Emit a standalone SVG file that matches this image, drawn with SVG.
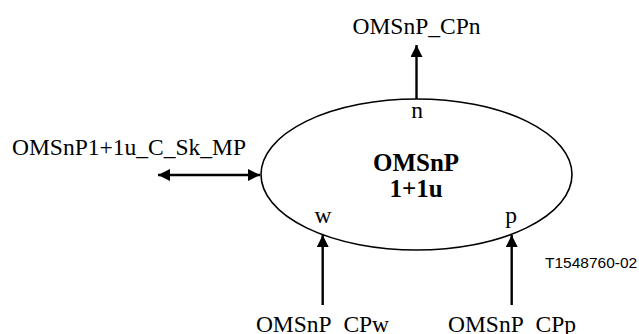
<svg xmlns="http://www.w3.org/2000/svg" width="639" height="334" viewBox="0 0 639 334">
<style>
.t{font-family:"Liberation Serif","Times New Roman",serif;font-size:23.5px;fill:#000}
.b{font-family:"Liberation Serif","Times New Roman",serif;font-size:25px;font-weight:bold;fill:#000}
.a{font-family:"Liberation Sans",Arial,sans-serif;font-size:15.5px;fill:#000}
.c{stroke:#000;stroke-width:2.4;fill:none}
</style>
<defs>
<marker id="ah" viewBox="0 0 12 12" refX="12" refY="6" markerWidth="12" markerHeight="12" markerUnits="userSpaceOnUse" orient="auto-start-reverse">
<path d="M0,0 L12,6 L0,12 Z" fill="#000"/>
</marker>
</defs>
<rect width="639" height="334" fill="#fff"/>
<g id="node-omsnp">
<ellipse cx="416.5" cy="174.5" rx="155.5" ry="75.5" fill="none" stroke="#000" stroke-width="1.6"/>
<text class="b" x="416" y="171" text-anchor="middle">OMSnP</text>
<text class="b" x="416" y="197" text-anchor="middle">1+1u</text>
<text class="t" x="417" y="118" text-anchor="middle">n</text>
<text class="t" x="323" y="223" text-anchor="middle">w</text>
<text class="t" x="511" y="223" text-anchor="middle">p</text>
</g>
<g id="label-cpn"><text class="t" x="416.5" y="34" text-anchor="middle">OMSnP_CPn</text></g>
<g id="label-sk"><text class="t" x="12" y="155">OMSnP1+1u_C_Sk_MP</text></g>
<g id="label-cpw"><text class="t" x="322.5" y="332" text-anchor="middle">OMSnP_CPw</text></g>
<g id="label-cpp"><text class="t" x="512" y="332" text-anchor="middle">OMSnP_CPp</text></g>
<g id="label-id"><text class="a" x="545" y="268">T1548760-02</text></g>
<g id="connectors">
<line class="c" x1="416.5" y1="99" x2="416.5" y2="45" marker-end="url(#ah)"/>
<line class="c" x1="158" y1="175" x2="260" y2="175" marker-start="url(#ah)" marker-end="url(#ah)"/>
<line class="c" x1="322.7" y1="305" x2="322.7" y2="235" marker-end="url(#ah)"/>
<line class="c" x1="511.7" y1="305" x2="511.7" y2="235" marker-end="url(#ah)"/>
</g>
</svg>
